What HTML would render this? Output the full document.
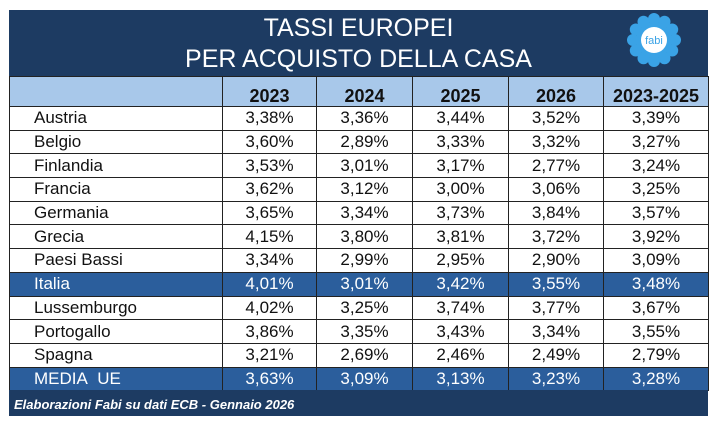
<!DOCTYPE html>
<html><head><meta charset="utf-8"><style>
body{margin:0;width:716px;height:426px;background:#fff;position:relative;font-family:"Liberation Sans",sans-serif;overflow:hidden}
.title{position:absolute;left:9px;top:10px;width:699px;height:66px;background:#1d3b62;color:#fff;text-align:center;font-size:25px;line-height:31px;padding-top:3px;box-sizing:border-box}
table{position:absolute;left:9px;top:76px;border-collapse:collapse;width:699px;table-layout:fixed}
td{border:1.5px solid #222;padding:0;font-size:17px;text-align:center;color:#111;box-sizing:border-box;line-height:18px}
tr{height:23.7px}
td:first-child{text-align:left;padding-left:24px}
tr.h{height:30px}
tr.h td{background:#a8c8ea;font-weight:bold;vertical-align:bottom;font-size:18px;padding-bottom:1px}
tr.b td{background:#2b5e9c;color:#fff}
.foot{position:absolute;left:9px;top:390px;width:699px;height:26px;background:#1d3b62;color:#fff;font-style:italic;font-weight:bold;font-size:13px;line-height:30px;padding-left:5px;box-sizing:border-box}
</style></head><body>
<div class="title">TASSI EUROPEI<br>PER ACQUISTO DELLA CASA</div>
<svg style="position:absolute;left:624px;top:11px" width="60" height="58" viewBox="-30 -29 60 58">
<g fill="#3aa3e6">
<circle cx="0" cy="-21" r="6"/><circle cx="10.5" cy="-18.2" r="6"/><circle cx="18.2" cy="-10.5" r="6"/><circle cx="21" cy="0" r="6"/><circle cx="18.2" cy="10.5" r="6"/><circle cx="10.5" cy="18.2" r="6"/><circle cx="0" cy="21" r="6"/><circle cx="-10.5" cy="18.2" r="6"/><circle cx="-18.2" cy="10.5" r="6"/><circle cx="-21" cy="0" r="6"/><circle cx="-18.2" cy="-10.5" r="6"/><circle cx="-10.5" cy="-18.2" r="6"/><circle r="18"/></g>
<circle r="13" fill="#fff"/><text x="0" y="4" text-anchor="middle" font-size="11" fill="#3aa3e6" font-family="Liberation Sans">fabi</text></svg>
<table>
<colgroup><col style="width:213px"><col style="width:94px"><col style="width:96px"><col style="width:96px"><col style="width:95px"><col style="width:105px"></colgroup>
<tr class="h"><td></td><td>2023</td><td>2024</td><td>2025</td><td>2026</td><td>2023-2025</td></tr>
<tr><td>Austria</td><td>3,38%</td><td>3,36%</td><td>3,44%</td><td>3,52%</td><td>3,39%</td></tr>
<tr><td>Belgio</td><td>3,60%</td><td>2,89%</td><td>3,33%</td><td>3,32%</td><td>3,27%</td></tr>
<tr><td>Finlandia</td><td>3,53%</td><td>3,01%</td><td>3,17%</td><td>2,77%</td><td>3,24%</td></tr>
<tr><td>Francia</td><td>3,62%</td><td>3,12%</td><td>3,00%</td><td>3,06%</td><td>3,25%</td></tr>
<tr><td>Germania</td><td>3,65%</td><td>3,34%</td><td>3,73%</td><td>3,84%</td><td>3,57%</td></tr>
<tr><td>Grecia</td><td>4,15%</td><td>3,80%</td><td>3,81%</td><td>3,72%</td><td>3,92%</td></tr>
<tr><td>Paesi Bassi</td><td>3,34%</td><td>2,99%</td><td>2,95%</td><td>2,90%</td><td>3,09%</td></tr>
<tr class="b"><td>Italia</td><td>4,01%</td><td>3,01%</td><td>3,42%</td><td>3,55%</td><td>3,48%</td></tr>
<tr><td>Lussemburgo</td><td>4,02%</td><td>3,25%</td><td>3,74%</td><td>3,77%</td><td>3,67%</td></tr>
<tr><td>Portogallo</td><td>3,86%</td><td>3,35%</td><td>3,43%</td><td>3,34%</td><td>3,55%</td></tr>
<tr><td>Spagna</td><td>3,21%</td><td>2,69%</td><td>2,46%</td><td>2,49%</td><td>2,79%</td></tr>
<tr class="b"><td>MEDIA&nbsp; UE</td><td>3,63%</td><td>3,09%</td><td>3,13%</td><td>3,23%</td><td>3,28%</td></tr>
</table>
<div class="foot">Elaborazioni Fabi su dati ECB - Gennaio 2026</div>
</body></html>
